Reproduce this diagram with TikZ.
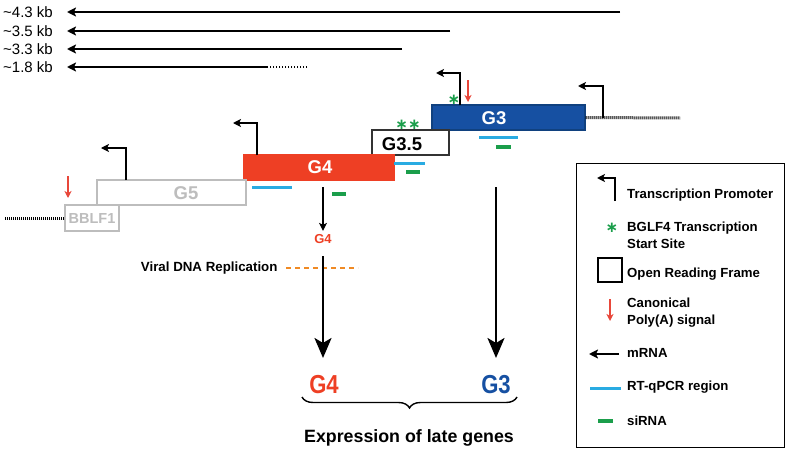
\documentclass[tikz,border=0pt]{standalone}
\usepackage{fontspec}
\setmainfont{Liberation Sans}
\newfontfamily\starfont{DejaVu Sans}
\usetikzlibrary{arrows.meta,decorations.pathreplacing}
\definecolor{RedGene}{HTML}{EE3F24}
\definecolor{BlueGene}{HTML}{1650A2}
\definecolor{DarkBlueGene}{HTML}{10417F}
\definecolor{GreyGene}{HTML}{BDBDBD}
\definecolor{RTqPCR}{HTML}{29ABE2}
\definecolor{SiRNA}{HTML}{1B9E4B}
\definecolor{PolyA}{HTML}{E8473A}
\definecolor{Replic}{HTML}{F08A24}
\newcommand\legprom{Transcription Promoter}
\newcommand\legtss{BGLF4 Transcription\\Start Site}
\newcommand\legorf{Open Reading Frame}
\newcommand\legpolya{Canonical\\Poly(A) signal}
\newcommand\legmrna{mRNA}
\newcommand\legqpcr{RT-qPCR region}
\newcommand\legsirna{siRNA}
\tikzstyle{orf} = [rectangle, minimum height=25pt, inner sep=0pt, line width=1.2pt]
\tikzstyle{gt} = [font=\fontsize{18.5}{18.5}\selectfont\bfseries]
\tikzstyle{kb} = [anchor=west, inner sep=0pt, font=\fontsize{15}{15}\selectfont]
\tikzstyle{leg} = [anchor=west, inner sep=0pt, align=left, font=\fontsize{13.2}{17}\selectfont\bfseries]
\tikzstyle{mrna} = [line width=2pt, -{Stealth[length=9pt,width=9pt,inset=2pt]}]
\tikzstyle{prom} = [line width=1.2pt, -{Stealth[length=8pt,width=8pt,inset=2pt]}]
\tikzstyle{polya} = [PolyA, line width=1.2pt, -{Stealth[length=7pt,width=7pt,inset=2pt]}]
\tikzstyle{bigarr} = [line width=2.5pt, -{Stealth[length=20pt,width=17pt,inset=5pt]}]
\tikzstyle{chrom} = [line width=3pt, dash pattern=on 1pt off 1pt]
\tikzstyle{qpcr} = [RTqPCR, line width=3pt]
\tikzstyle{sirna} = [SiRNA, line width=4.5pt]
\tikzstyle{tss} = [SiRNA, inner sep=0pt, font=\starfont\fontsize{15}{15}\selectfont\bfseries]
\tikzstyle{bigg} = [font=\fontsize{26}{26}\selectfont\bfseries, xscale=0.85]
\tikzset{every picture/.style={line cap=butt}}

\begin{document}
\begin{tikzpicture}[x=1pt, y=-1pt]
\useasboundingbox (0,0) rectangle (789,452);
% transcripts
\node[kb] (k43) at (3,12) {\textasciitilde4.3 kb};
\node[kb] (k35) at (3,31) {\textasciitilde3.5 kb};
\node[kb] (k33) at (3,49) {\textasciitilde3.3 kb};
\node[kb] (k18) at (3,67) {\textasciitilde1.8 kb};
\coordinate (m43s) at (620,12);
\coordinate (m43e) at (67,12);
\coordinate (m35s) at (450,31);
\coordinate (m35e) at (67,31);
\coordinate (m33s) at (402,49);
\coordinate (m33e) at (67,49);
\coordinate (m18d) at (307,67);
\coordinate (m18s) at (268,67);
\coordinate (m18e) at (67,67);
\draw[mrna] (m43s) -- (m43e);
\draw[mrna] (m35s) -- (m35e);
\draw[mrna] (m33s) -- (m33e);
\draw[mrna] (m18s) -- (m18e);
\draw[line width=2pt, dash pattern=on 1.5pt off 1.5pt] (m18d) -- (m18s);
% genes
\node[orf, draw=DarkBlueGene, fill=BlueGene, minimum width=153pt] (g3) at (508.5,117.5) {};
\node[orf, draw=black!80, fill=white, minimum width=77pt] (g35) at (410.5,142.5) {};
\node[orf, draw=RedGene, fill=RedGene, minimum width=150pt] (g4) at (319,167.5) {};
\node[orf, draw=GreyGene, fill=white, minimum width=149pt] (g5) at (171.5,192.5) {};
\node[orf, draw=GreyGene, fill=white, minimum width=54pt, minimum height=26pt] (bblf) at (92,218) {};
\node[gt, text=white] (g3t) at (494,118) {G3};
\node[gt, text=black] (g35t) at (402,144) {G3.5};
\node[gt, text=white] (g4t) at (320,167) {G4};
\node[gt, text=GreyGene] (g5t) at (186,193) {G5};
\node[gt, text=GreyGene, font=\fontsize{14.5}{14.5}\selectfont\bfseries] (bblft) at (92,219) {BBLF1};
\coordinate (chr1) at (680,118);
\coordinate (chr2) at (5,218);
\draw[chrom] (g3.east) -- (chr1);
\draw[chrom] (bblf.west) -- (chr2);
% promoters
\coordinate (p1b) at (603,118);
\coordinate (p1e) at (578,86);
\coordinate (p2b) at (460,105);
\coordinate (p2e) at (436,73);
\coordinate (p3b) at (257,155);
\coordinate (p3e) at (233,123);
\coordinate (p4b) at (126,180);
\coordinate (p4e) at (101,148);
\draw[prom] (p1b) |- (p1e);
\draw[prom] (p2b) |- (p2e);
\draw[prom] (p3b) |- (p3e);
\draw[prom] (p4b) |- (p4e);
% poly(A)
\coordinate (a1s) at (468,80);
\coordinate (a1e) at (468,102);
\coordinate (a2s) at (68,176);
\coordinate (a2e) at (68,198);
\draw[polya] (a1s) -- (a1e);
\draw[polya] (a2s) -- (a2e);
% start sites
\node[tss] (s1) at (454,100) {∗};
\node[tss] (s2) at (408,125) {∗∗};
% RT-qPCR and siRNA
\draw[qpcr] (252,187) -- (292,187);
\draw[qpcr] (394,163) -- (425,163);
\draw[qpcr] (479,137) -- (518,137);
\draw[sirna] (332,194) -- (346,194);
\draw[sirna] (406,172) -- (420,172);
\draw[sirna] (496,147) -- (511,147);
% expression
\coordinate (g4d) at (323,187);
\node[text=RedGene, font=\fontsize{13}{13}\selectfont\bfseries] (g4s) at (323,239) {G4};
\draw[line width=1.2pt, -{Stealth[length=8pt,width=8pt,inset=2pt]}] (g4d) -- (g4s.north);
\node[font=\fontsize{13.3}{13.3}\selectfont\bfseries, anchor=east] (rep) at (281,268) {Viral DNA Replication};
\coordinate (repe) at (358,268);
\draw[Replic, line width=2.5pt, dash pattern=on 5pt off 4pt] ([xshift=5pt]rep.east) -- (repe);
\node[bigg, text=RedGene] (G4big) at (324,385) {G4};
\node[bigg, text=BlueGene] (G3big) at (496,385) {G3};
\coordinate (b4s) at (323,256);
\coordinate (b4e) at (323,358);
\coordinate (b3s) at (496,187);
\coordinate (b3e) at (496,358);
\draw[bigarr] (b4s) -- (b4e);
\draw[bigarr] (b3s) -- (b3e);
\coordinate (brl) at (302,397);
\coordinate (brr) at (517,397);
\draw[line width=1.4pt, decorate, decoration={brace, mirror, amplitude=11pt}] (brl) -- (brr);
\node[font=\fontsize{17.8}{17.8}\selectfont\bfseries] (expr) at (409,438) {Expression of late genes};
% legend
\node[draw, line width=1pt, minimum width=208pt, minimum height=284pt] (legend) at (680,305) {};
\coordinate (lpb) at (615,201);
\coordinate (lpe) at (597,178);
\draw[prom] (lpb) |- (lpe);
\node[leg] (lprom) at (627,195) {\legprom};
\node[tss] (lstar) at (612,228) {∗};
\node[leg] (ltss) at (627,235) {\legtss};
\node[draw, line width=1.2pt, minimum size=24pt] (lorfbox) at (610,270) {};
\node[leg] (lorf) at (627,274) {\legorf};
\coordinate (las) at (610,299);
\coordinate (lae) at (610,321);
\draw[polya] (las) -- (lae);
\node[leg] (lpolya) at (627,313) {\legpolya};
\coordinate (lms) at (619,354);
\coordinate (lme) at (589,354);
\draw[mrna] (lms) -- (lme);
\node[leg] (lmrna) at (627,353) {\legmrna};
\draw[qpcr] (590,388) -- (621,388);
\node[leg] (lqpcr) at (627,387) {\legqpcr};
\draw[sirna] (598,421) -- (613,421);
\node[leg] (lsirna) at (627,421) {\legsirna};
\end{tikzpicture}
\end{document}
